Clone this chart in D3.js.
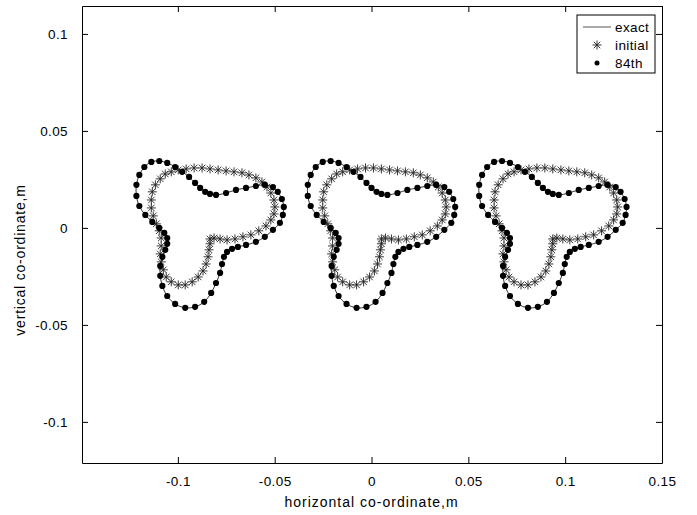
<html>
<head>
    <meta charset="utf-8">
    <title>Exact, initial and 84th iterate contours</title>
    <style type="text/css">
        body { margin: 0; background: #fff; }
        text { font-family: Arial, "Liberation Sans", Helvetica, sans-serif; fill: #000; }
        .axis path, .axis line { stroke: #000; stroke-width: 1; }
        .exact { fill: none; stroke: #000; stroke-width: 0.8; }
        .star { fill: none; stroke: #222; stroke-width: 0.9; }
        .dot { fill: #000; stroke: none; }
    </style>
</head>
<body>
<script src="https://d3js.org/d3.v7.min.js"></script>
<script>

// tick values of both axes
var xTicks = [-0.1, -0.05, 0, 0.05, 0.1, 0.15];
var yTicks = [-0.1, -0.05, 0, 0.05, 0.1];

// horizontal position of the three bodies (m)
var bodyShift = [-0.0885, 0, 0.0885];

// exact contour of one body (m).
// the 84th iterate sits on these same points
var exactX = [0.0026, 0.0051, 0.0082, 0.0134, 0.0185, 0.0237, 0.0288, 0.0334, 0.0376, 0.0401,
              0.0422, 0.0432, 0.0427, 0.0412, 0.0376, 0.0334, 0.0288, 0.0237, 0.0195, 0.0165,
              0.0139, 0.0123, 0.0113, 0.0103, 0.0082, 0.0057, 0.0021, -0.0026, -0.0077, -0.0129,
              -0.0170, -0.0195, -0.0206, -0.0206, -0.0195, -0.0180, -0.0170, -0.0170, -0.0185, -0.0211,
              -0.0247, -0.0283, -0.0314, -0.0329, -0.0329, -0.0314, -0.0288, -0.0252, -0.0211, -0.0170,
              -0.0129, -0.0093, -0.0057, -0.0026, 0.0];
var exactY = [0.0186, 0.0175, 0.0170, 0.0180, 0.0196, 0.0206, 0.0216, 0.0222, 0.0211, 0.0186,
              0.0149, 0.0108, 0.0067, 0.0026, -0.0010, -0.0046, -0.0072, -0.0088, -0.0098, -0.0108,
              -0.0124, -0.0149, -0.0186, -0.0232, -0.0284, -0.0335, -0.0381, -0.0407, -0.0412, -0.0392,
              -0.0351, -0.0299, -0.0247, -0.0196, -0.0149, -0.0113, -0.0082, -0.0052, -0.0026, 0.0,
              0.0031, 0.0067, 0.0113, 0.0165, 0.0222, 0.0273, 0.0314, 0.0340, 0.0345, 0.0335,
              0.0314, 0.0289, 0.0263, 0.0232, 0.0206];

// initial guess of one body (m)
var initX = [-0.0206, -0.0180, -0.0149, -0.0113, -0.0072, -0.0031, 0.0010, 0.0051, 0.0093, 0.0134,
             0.0175, 0.0216, 0.0252, 0.0288, 0.0319, 0.0345, 0.0365, 0.0381, 0.0386, 0.0381,
             0.0365, 0.0340, 0.0303, 0.0262, 0.0221, 0.0180, 0.0139, 0.0103, 0.0072, 0.0051,
             0.0051, 0.0046, 0.0041, 0.0031, 0.0015, -0.0010, -0.0041, -0.0077, -0.0113, -0.0149,
             -0.0175, -0.0190, -0.0201, -0.0206, -0.0201, -0.0201, -0.0211, -0.0226, -0.0242, -0.0252,
             -0.0252, -0.0247, -0.0231];
var initY = [0.0253, 0.0278, 0.0289, 0.0299, 0.0304, 0.0309, 0.0309, 0.0304, 0.0299, 0.0294,
             0.0289, 0.0284, 0.0273, 0.0258, 0.0237, 0.0211, 0.0180, 0.0144, 0.0108, 0.0072,
             0.0041, 0.0010, -0.0015, -0.0036, -0.0046, -0.0057, -0.0062, -0.0057, -0.0052, -0.0057,
             -0.0082, -0.0113, -0.0149, -0.0186, -0.0222, -0.0253, -0.0278, -0.0294, -0.0294, -0.0278,
             -0.0253, -0.0216, -0.0175, -0.0134, -0.0093, -0.0052, -0.0015, 0.0021, 0.0062, 0.0103,
             0.0144, 0.0186, 0.0222];

var legendLabels = ["exact", "initial", "84th"];

var margin = {top: 6, right: 35, bottom: 52, left: 82},
    width  = 697 - margin.left - margin.right,
    height = 515 - margin.top - margin.bottom;

var svg = d3.select("body")
    .append("svg")
    .attr("width", 697)
    .attr("height", 515);

var chart = svg.append("g")
    .attr("transform", "translate(" + margin.left + "," + margin.top + ")");

var xScale = d3.scaleLinear()
    .domain([-0.1495, 0.15])
    .range([0, width]);

var yScale = d3.scaleLinear()
    .domain([-0.1212, 0.1144])
    .range([height, 0]);

// asterisk marker, like matlab '*'
function starPath(s) {
    var k = s * 0.72;
    return "M" + (-s) + ",0H" + s + "M0," + (-s) + "V" + s +
           "M" + (-k) + "," + (-k) + "L" + k + "," + k +
           "M" + (-k) + "," + k + "L" + k + "," + (-k);
}

var exactLine = d3.line()
    .x(function(d){ return xScale(d[0]); })
    .y(function(d){ return yScale(d[1]); })
    .curve(d3.curveCatmullRomClosed);

bodyShift.forEach(function(dx){
    var exact = exactX.map(function(x, i){ return [x + dx, exactY[i]]; });
    var init = initX.map(function(x, i){ return [x + dx, initY[i]]; });

    chart.append("path")
        .datum(exact)
        .attr("class", "exact")
        .attr("d", exactLine);

    chart.selectAll(null)
        .data(init)
        .enter()
        .append("path")
        .attr("class", "star")
        .attr("transform", function(d){ return "translate(" + xScale(d[0]) + "," + yScale(d[1]) + ")"; })
        .attr("d", starPath(4.5));

    chart.selectAll(null)
        .data(exact)
        .enter()
        .append("circle")
        .attr("class", "dot")
        .attr("cx", function(d){ return xScale(d[0]); })
        .attr("cy", function(d){ return yScale(d[1]); })
        .attr("r", 3.1);
});

// box with inward ticks on all four sides
var fmt = function(d){ return String(d); };

chart.append("g")
    .attr("class", "axis")
    .attr("transform", "translate(0," + height + ")")
    .call(d3.axisBottom(xScale).tickValues(xTicks).tickFormat(fmt)
        .tickSizeInner(-6).tickSizeOuter(0).tickPadding(13))
    .selectAll("text").style("font-size", "13.5px").style("letter-spacing", "0.4px");

chart.append("g")
    .attr("class", "axis")
    .call(d3.axisTop(xScale).tickValues(xTicks).tickFormat("")
        .tickSizeInner(-6).tickSizeOuter(0));

chart.append("g")
    .attr("class", "axis")
    .call(d3.axisLeft(yScale).tickValues(yTicks).tickFormat(fmt)
        .tickSizeInner(-6).tickSizeOuter(0).tickPadding(14))
    .selectAll("text").style("font-size", "13.5px").style("letter-spacing", "0.4px");

chart.append("g")
    .attr("class", "axis")
    .attr("transform", "translate(" + width + ",0)")
    .call(d3.axisRight(yScale).tickValues(yTicks).tickFormat("")
        .tickSizeInner(-6).tickSizeOuter(0));

// axis titles
svg.append("text")
    .attr("x", margin.left + xScale(0))
    .attr("y", 507)
    .attr("text-anchor", "middle")
    .style("font-size", "14px")
    .style("letter-spacing", "1px")
    .text("horizontal co-ordinate,m");

svg.append("text")
    .attr("transform", "translate(25,260) rotate(-90)")
    .attr("text-anchor", "middle")
    .style("font-size", "14px")
    .style("letter-spacing", "0.8px")
    .text("vertical co-ordinate,m");

// legend
var legend = svg.append("g")
    .attr("transform", "translate(577,15)");

legend.append("rect")
    .attr("width", 78)
    .attr("height", 58)
    .attr("fill", "#fff")
    .attr("stroke", "#000");

var rowY = [12, 30, 48];

legend.append("line")
    .attr("x1", 6).attr("x2", 34)
    .attr("y1", rowY[0]).attr("y2", rowY[0])
    .attr("stroke", "#555").attr("stroke-width", 1);

legend.append("path")
    .attr("class", "star")
    .attr("transform", "translate(20," + rowY[1] + ")")
    .attr("d", starPath(4.5));

legend.append("circle")
    .attr("class", "dot")
    .attr("cx", 20).attr("cy", rowY[2]).attr("r", 2.5);

legend.selectAll(".lab")
    .data(legendLabels)
    .enter()
    .append("text")
    .attr("class", "lab")
    .attr("x", 38)
    .attr("y", function(d, i){ return rowY[i]; })
    .attr("dy", "0.35em")
    .style("font-size", "13.5px")
    .style("letter-spacing", "0.4px")
    .text(function(d){ return d; });

</script>
</body>
</html>
